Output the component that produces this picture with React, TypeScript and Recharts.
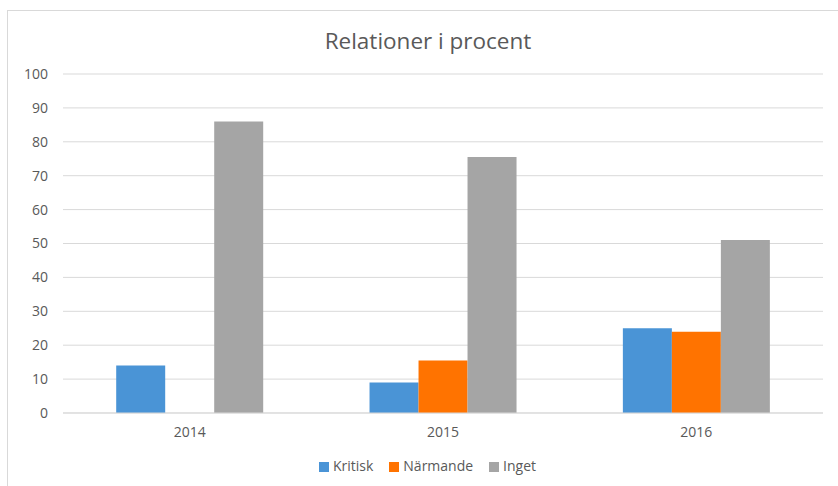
import { BarChart, Bar, XAxis, YAxis, CartesianGrid, Legend } from "recharts"

const years = ["2014", "2015", "2016"]
const seriesNames = ["Kritisk", "Närmande", "Inget"]
const kritisk = [14, 9, 25]
const narmande = [0, 15.5, 24]
const inget = [86, 75.5, 51]
const yTicks = [0, 10, 20, 30, 40, 50, 60, 70, 80, 90, 100]

const data = years.map((year, i) => ({
  year,
  Kritisk: kritisk[i],
  Närmande: narmande[i],
  Inget: inget[i],
}))

const font = "'Open Sans', 'Noto Sans', sans-serif"
const textColor = "#595959"

export default function App() {
  return (
    <div style={{ position: "absolute", left: 0, top: 0, width: 838, height: 486, background: "#fff", overflow: "hidden", fontFamily: font }}>
      <div
        style={{
          position: "absolute",
          left: 7,
          top: 10,
          width: 840,
          height: 490,
          border: "1px solid #d9d9d9",
        }}
      />
      <div
        style={{
          position: "absolute",
          top: 25,
          left: 0,
          width: 856,
          textAlign: "center",
          fontSize: 22.5,
          color: textColor,
        }}
      >
        Relationer i procent
      </div>
      <div style={{ position: "absolute", left: 0, top: 0 }}>
        <BarChart
          width={838}
          height={486}
          data={data}
          margin={{ top: 74, right: 15, left: 0, bottom: 24 }}
          barCategoryGap="21%"
          barGap={0}
        >
          <CartesianGrid vertical={false} stroke="#d9d9d9" />
          <XAxis
            dataKey="year"
            axisLine={{ stroke: "#d9d9d9" }}
            tickLine={false}
            tickMargin={8}
            tick={{ fill: textColor, fontSize: 14, fontFamily: font }}
          />
          <YAxis
            width={63}
            domain={[0, 100]}
            ticks={yTicks}
            axisLine={false}
            tickLine={false}
            tickMargin={9}
            tick={{ fill: textColor, fontSize: 14, fontFamily: font }}
          />
          <Legend
            iconType="square"
            iconSize={10}
            itemSorter={(item: any) => seriesNames.indexOf(item.value)}
            wrapperStyle={{ fontSize: 14, fontFamily: font, bottom: 11, paddingLeft: 48, boxSizing: "border-box" }}
            formatter={(value) => <span style={{ color: textColor, marginRight: 6 }}>{value}</span>}
          />
          <Bar dataKey="Kritisk" fill="#4a94d6" isAnimationActive={false} />
          <Bar dataKey="Närmande" fill="#ff7300" isAnimationActive={false} />
          <Bar dataKey="Inget" fill="#a5a5a5" isAnimationActive={false} />
        </BarChart>
      </div>
    </div>
  )
}
